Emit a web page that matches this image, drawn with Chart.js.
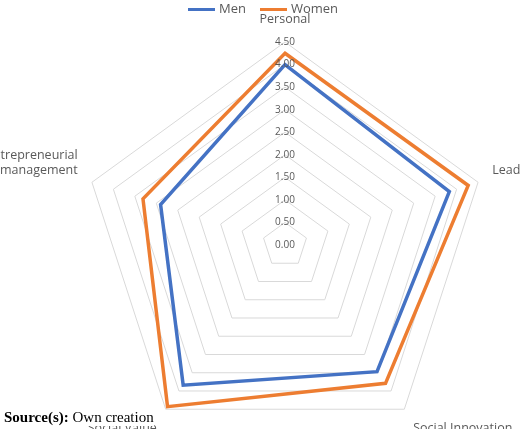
<!DOCTYPE html>
<html><head><meta charset="utf-8">
<script src="https://cdn.jsdelivr.net/npm/chart.js@4.4.0/dist/chart.umd.min.js"></script>
<style>
body{margin:0;background:#fff;width:520px;height:429px;overflow:hidden;position:relative}
#wrap{position:absolute;left:-26px;top:1px;width:600px;height:466px}
#src{position:absolute;left:4px;top:409px;font-family:"Liberation Serif","Times New Roman",serif;font-size:15px;color:#000;background:#fff}
#leg{position:absolute;top:0;left:0;width:520px;text-align:center;font-family:"Open Sans";font-size:13px;color:#595959;line-height:16px}
#leg span.l{display:inline-block;width:27px;height:3px;vertical-align:middle;margin:0 4px 0 6px}
</style></head><body>
<div id="wrap"><canvas id="c"></canvas></div>
<div id="leg"><span class="l" style="background:#4472C4"></span>Men<span class="l" style="background:#ED7D31;margin-left:14px"></span>Women</div>
<div id="src"><b>Source(s):</b> Own creation</div>
<script>
const categories = ["Personal","Leadership","Social Innovation","Social Value",["Entrepreneurial","management"]];
const men = [4.0, 3.83, 3.47, 3.84, 2.9];
const women = [4.25, 4.27, 3.79, 4.43, 3.31];
const zeroPlugin={id:'zero',afterDraw(ch){const s=ch.scales.r;const c=ch.ctx;c.save();c.font='10px "Open Sans"';c.fillStyle='#595959';c.textAlign='center';c.textBaseline='middle';c.fillText('0.00',s.xCenter,s.yCenter);c.restore();}};
new Chart(document.getElementById('c'),{
  type:'radar',
  data:{labels:categories,datasets:[
    {label:'Men',data:men,borderColor:'#4472C4',backgroundColor:'rgba(0,0,0,0)',borderWidth:3.5,pointRadius:0,tension:0},
    {label:'Women',data:women,borderColor:'#ED7D31',backgroundColor:'rgba(0,0,0,0)',borderWidth:3.5,pointRadius:0,tension:0}
  ]},
  plugins:[zeroPlugin],
  options:{
    responsive:true,maintainAspectRatio:false,animation:false,
    layout:{padding:0},
    plugins:{legend:{display:false},tooltip:{enabled:false}},
    scales:{r:{min:0,max:4.5,
      ticks:{stepSize:0.5,showLabelBackdrop:false,color:'#595959',font:{family:'Open Sans',size:10},callback:v=>v.toFixed(2),z:1},
      grid:{color:'#d9d9d9',lineWidth:1},
      angleLines:{display:false},
      pointLabels:{color:'#595959',font:{family:'Open Sans',size:12.5},padding:8}
    }}
  }
});
</script></body></html>
